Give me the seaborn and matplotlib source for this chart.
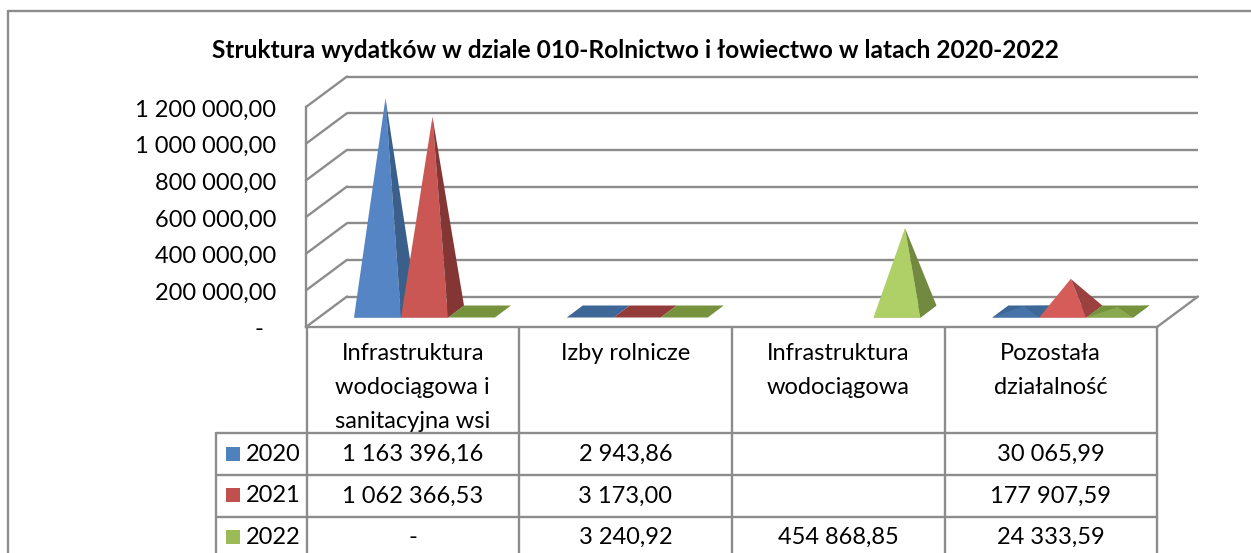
import matplotlib
matplotlib.use("Agg")
import matplotlib.pyplot as plt
import seaborn as sns
from matplotlib.transforms import Affine2D, ScaledTranslation

# data
categories = ["Infrastruktura\nwodociągowa i\nsanitacyjna wsi", "Izby rolnicze",
              "Infrastruktura\nwodociągowa", "Pozostała\ndziałalność"]
years = ["2020", "2021", "2022"]
v2020 = [1163396.16, 2943.86, None, 30065.99]
v2021 = [1062366.53, 3173.00, None, 177907.59]
v2022 = [0, 3240.92, 454868.85, 24333.59]
t2020 = ["1 163 396,16", "2 943,86", "", "30 065,99"]
t2021 = ["1 062 366,53", "3 173,00", "", "177 907,59"]
t2022 = ["-", "3 240,92", "454 868,85", "24 333,59"]
yticks = [0, 200000, 400000, 600000, 800000, 1000000, 1200000]
yticklabels = ["-\u00a0\u00a0", "200 000,00", "400 000,00", "600 000,00",
               "800 000,00", "1 000 000,00", "1 200 000,00"]
title = "Struktura wydatków w dziale 010-Rolnictwo i łowiectwo w latach 2020-2022"

front = ["#5585c5", "#cb5754", "#afd066"]
side = ["#3a5f8b", "#843634", "#728a3f"]
flat = ["#3d6797", "#943c3a", "#76923c"]
low_front = ["#4673a8", "#d65c59", "#8aa84e"]
low_side = ["#3d6797", "#9b4241", "#76923c"]
swatch = ["#4f81bd", "#c0504d", "#9bbb59"]
line = "#8c8c8c"
lw = 1.7
W, H = 1251, 553

sns.set_theme(style="white")
plt.rcParams["font.family"] = ["Lato", "DejaVu Sans"]
fs = 17.0

fig = plt.figure(figsize=(W / 100, H / 100), dpi=100)
px = Affine2D().scale(1 / W, -1 / H).translate(0, 1) + fig.transFigure
ax = fig.add_axes([306 / W, 1 - 327 / H, 851 / W, 220 / H])
ax.set_xlim(0, 4)
ax.set_ylim(0, 1200000)
ax.patch.set_visible(False)

xu = 851 / 4          # pixels per category
yu = 220 / 1200000    # pixels per value unit
wall_dx, wall_dy = 41 / xu, 30.5 / yu
bar_w = 47 / xu
bar_dx, bar_dy = 16 / xu, 12 / yu
bar_lift = 9.5 / yu
bar_start = 48 / xu

# walls and gridlines
for t in yticks:
    ax.plot([0, wall_dx], [t, t + wall_dy], color=line, lw=lw, clip_on=False, zorder=1)
    ax.plot([wall_dx, 4 + wall_dx], [t + wall_dy] * 2, color=line, lw=lw, clip_on=False,
            zorder=1, solid_capstyle="butt")
ax.plot([4, 4 + wall_dx], [0, wall_dy], color=line, lw=lw, clip_on=False, zorder=1)

# pyramids
series = [v2020, v2021, v2022]
for c in range(4):
    for s, vals in enumerate(series):
        v = vals[c]
        if v is None:
            continue
        x0 = c + bar_start + s * bar_w
        x1 = x0 + bar_w
        y0 = bar_lift
        ax.fill([x0, x1, x1 + bar_dx, x0 + bar_dx], [y0, y0, y0 + bar_dy, y0 + bar_dy],
                color=flat[s], lw=0, clip_on=False, zorder=3 + s)
        if v < 10000:
            continue
        low = v < 200000
        ax_x = x0 + (bar_w + bar_dx) / 2
        ax_y = y0 + bar_dy / 2 + v
        ax.fill([x0, x1, ax_x], [y0, y0, ax_y], color=low_front[s] if low else front[s],
                lw=0, clip_on=False, zorder=3 + s)
        ax.fill([x1, x1 + bar_dx, ax_x], [y0, y0 + bar_dy, ax_y], color=low_side[s] if low else side[s],
                lw=0, clip_on=False, zorder=3 + s)

ax.set_xticks([])
ax.set_yticks(yticks)
ax.set_yticklabels(yticklabels, fontsize=fs, color="black")
ax.tick_params(axis="y", length=0, pad=21.5)
for lab in ax.get_yticklabels():
    lab.set_transform(lab.get_transform() + ScaledTranslation(0, -1 / 100, fig.dpi_scale_trans))
sns.despine(ax=ax, top=True, right=True)
for k in ["left", "bottom"]:
    ax.spines[k].set_color(line)
    ax.spines[k].set_linewidth(lw)
    ax.spines[k].set_zorder(6)

# outer frame
def hv(xs, ys):
    fig.add_artist(plt.Line2D(xs, ys, transform=px, color=line, lw=lw))

hv([8, 8], [11, H])
hv([8, W], [11, 11])

fig.text(635, 50, title, transform=px, fontsize=17.65, fontweight="bold", ha="center", va="center", color="black")

# data table
col_x = [306.5, 519, 732, 944.5, 1157]
row_y = [433, 475, 517]
for x in col_x:
    hv([x, x], [327, H])
hv([216, 216], [433, H])
for y in row_y:
    hv([216, 1157], [y, y])

for c, name in enumerate(categories):
    cx = (col_x[c] + col_x[c + 1]) / 2
    for i, part in enumerate(name.split("\n")):
        fig.text(cx, 354 + i * 33.5, part, transform=px, fontsize=fs, ha="center", va="center", color="black")

rows = [t2020, t2021, t2022]
for r, yr in enumerate(years):
    yc = 453.5 + r * 41.5
    fig.patches.append(plt.Rectangle((226, yc + 7), 14, -14, transform=px, color=swatch[r], lw=0))
    fig.text(246, yc + 1, yr, transform=px, fontsize=fs, ha="left", va="center", color="black")
    for c in range(4):
        cx = (col_x[c] + col_x[c + 1]) / 2
        fig.text(cx, yc + 1, rows[r][c], transform=px, fontsize=fs, ha="center", va="center", color="black")

fig.savefig("out.png", dpi=100)
